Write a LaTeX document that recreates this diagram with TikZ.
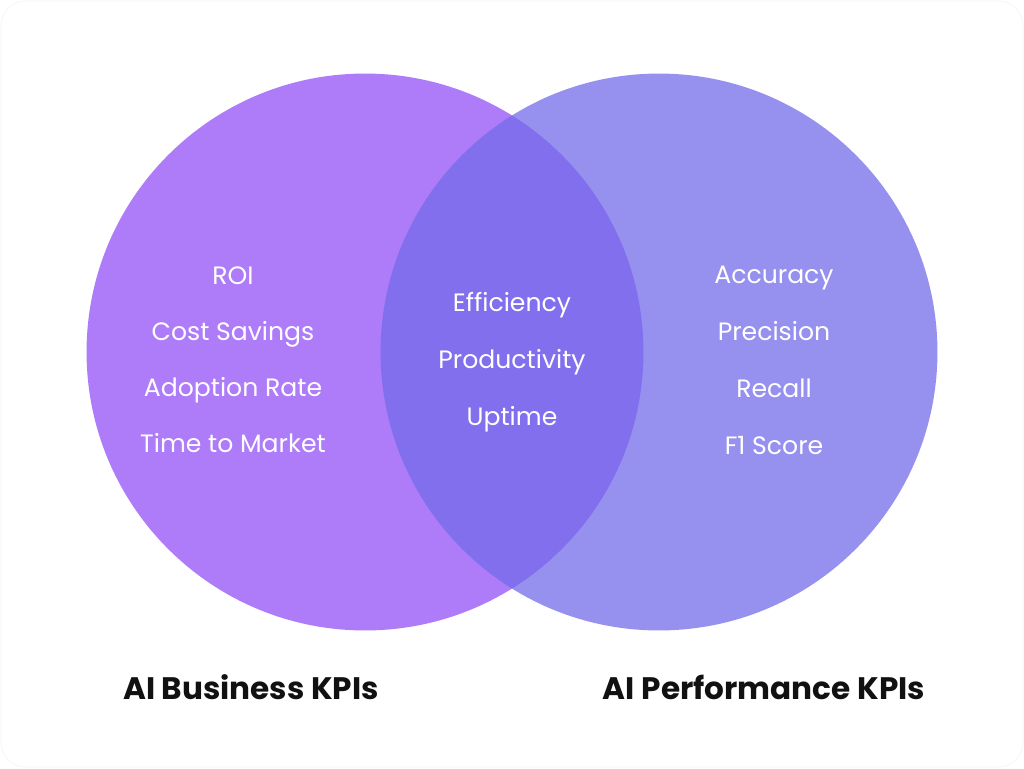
\documentclass[tikz,border=0pt]{standalone}
\usepackage{fontspec}
\setmainfont{Poppins}
\usetikzlibrary{positioning}
\definecolor{bizViolet}{RGB}{174, 123, 249}
\definecolor{perfIndigo}{RGB}{115, 107, 234}
\definecolor{inkBlack}{RGB}{17, 17, 17}
\definecolor{pageEdge}{RGB}{245, 245, 247}
\tikzset{
    kpi/.style={text=white, font=\fontsize{14.3pt}{16pt}\selectfont, anchor=center, inner sep=0pt, text height=1.45ex, text depth=0.35ex},
    group title/.style={text=inkBlack, font=\fontsize{17.7pt}{20pt}\selectfont\bfseries, anchor=center, inner sep=0pt, text height=1.45ex, text depth=0.35ex},
    venn/.style={circle, minimum size=11.14cm, inner sep=0pt}
}
\begin{document}
\begin{tikzpicture}[x=0.02cm, y=-0.02cm]
    \useasboundingbox (0,0) rectangle (1024,768);
    \draw[pageEdge, fill=white, rounded corners=0.5cm] (1,1) rectangle (1023,767);
    % the two sets
    \node[venn, fill=bizViolet] (bizCircle) at (365,352) {};
    \node[venn, fill=perfIndigo, fill opacity=0.75] (perfCircle) at (659,352) {};
    % business side
    \node[kpi] (roi) at (233,279) {ROI};
    \node[kpi] (costSavings) at (233,335) {Cost Savings};
    \node[kpi] (adoption) at (233,391) {Adoption Rate};
    \node[kpi] (timeMarket) at (233,447) {Time to Market};
    % shared
    \node[kpi] (efficiency) at (512,306) {Efficiency};
    \node[kpi] (productivity) at (512,363) {Productivity};
    \node[kpi] (uptime) at (512,420) {Uptime};
    % performance side
    \node[kpi] (accuracy) at (774,278) {Accuracy};
    \node[kpi] (precision) at (774,335) {Precision};
    \node[kpi] (recall) at (774,392) {Recall};
    \node[kpi] (fOne) at (774,449) {F1 Score};
    % titles
    \node[group title] (bizTitle) at (251,694) {AI Business KPIs};
    \node[group title] (perfTitle) at (764,694) {AI Performance KPIs};
\end{tikzpicture}
\end{document}
